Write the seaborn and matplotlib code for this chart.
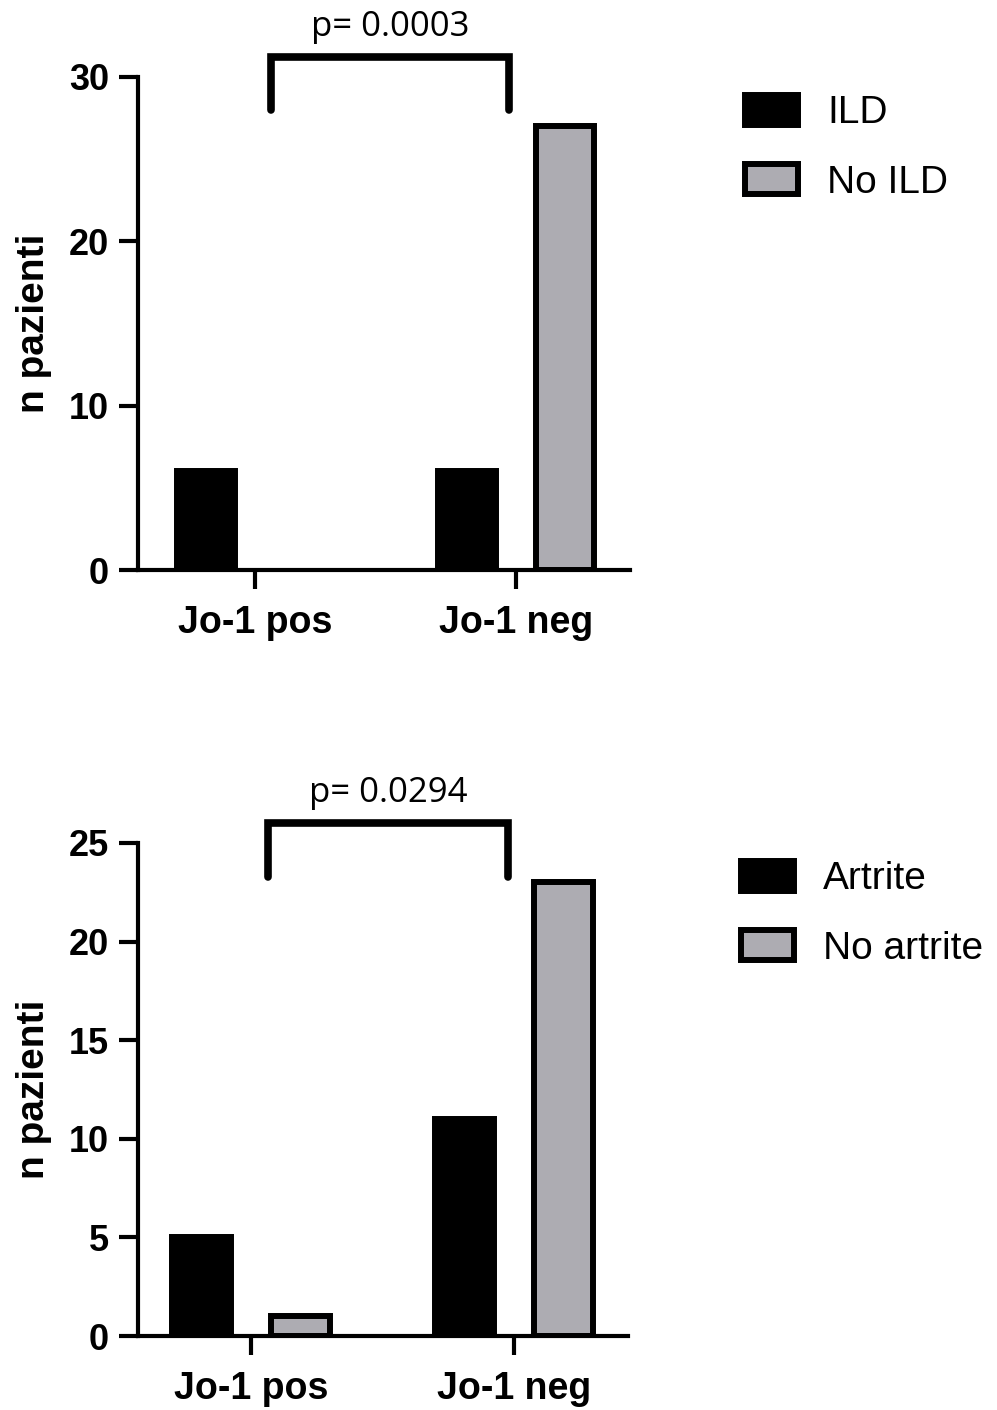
import numpy as np
import pandas as pd
import matplotlib
matplotlib.use("Agg")
import matplotlib.pyplot as plt
import matplotlib.patches as mpatches
import seaborn as sns

# ---------------- data ----------------
groups = ["Jo-1 pos", "Jo-1 neg"]

ild_labels = ["ILD", "No ILD"]
ild_values = [6, 6]
no_ild_values = [0, 27]

artrite_labels = ["Artrite", "No artrite"]
artrite_values = [5, 11]
no_artrite_values = [1, 23]

p_labels = ["p= 0.0003", "p= 0.0294"]
top_yticks = [0, 10, 20, 30]
bottom_yticks = [0, 5, 10, 15, 20, 25]
y_label = "n pazienti"

# ---------------- style ----------------
sns.set_theme(style="ticks")
plt.rcParams["font.family"] = ["Liberation Sans", "DejaVu Sans"]
plt.rcParams["text.color"] = "black"
plt.rcParams["axes.labelcolor"] = "black"
plt.rcParams["xtick.color"] = "black"
plt.rcParams["ytick.color"] = "black"

BLACK = "#000000"
GRAY = "#ADACB2"
EDGE_LW = 4.3
SPINE_LW = 3.0

W, H = 997, 1410
fig = plt.figure(figsize=(W / 100, H / 100), dpi=100)

def px_axes(left, right, top, bottom):
    return fig.add_axes([left / W, 1 - bottom / H, (right - left) / W, (bottom - top) / H])

ax_top = px_axes(138, 630, 77, 570)
ax_bot = px_axes(138, 628, 843, 1336)

def make_df(labels, v1, v2):
    rows = []
    for g, a, b in zip(groups, v1, v2):
        rows.append({"group": g, "status": labels[0], "n": a})
        rows.append({"group": g, "status": labels[1], "n": b})
    return pd.DataFrame(rows)

panels = [
    (ax_top, make_df(ild_labels, ild_values, no_ild_values), ild_labels, top_yticks,
     (-0.448, 1.437), p_labels[0], (0.06, 0.973), (28.0, 31.22), 32.5,
     (745, 95)),
    (ax_bot, make_df(artrite_labels, artrite_values, no_artrite_values), artrite_labels, bottom_yticks,
     (-0.43, 1.433), p_labels[1], (0.065, 0.977), (23.3, 26.01), 27.1,
     (741, 861)),
]

for ax, df, labels, yticks, xlim, ptxt, bx, by, ptext_y, leg_xy in panels:
    sns.barplot(data=df, x="group", y="n", hue="status", order=groups, hue_order=labels,
                palette=[BLACK, GRAY], width=0.753, gap=0.405,
                edgecolor=BLACK, linewidth=EDGE_LW, saturation=1, legend=False,
                errorbar=None, ax=ax)
    # zero-height bars: no visible outline
    for p in ax.patches:
        if p.get_height() == 0:
            p.set_linewidth(0)
    ax.set_xlim(*xlim)
    ax.set_ylim(yticks[0], yticks[-1])
    ax.set_yticks(yticks)
    ax.set_xlabel("")
    ax.set_ylabel(y_label, fontsize=28, fontweight="bold", labelpad=0, color=BLACK)
    ax.yaxis.set_label_coords(-0.175, 0.5)
    sns.despine(ax=ax)
    for s in ["left", "bottom"]:
        ax.spines[s].set_linewidth(SPINE_LW)
        ax.spines[s].set_color(BLACK)
    ax.tick_params(axis="x", length=14, width=SPINE_LW, color=BLACK, pad=11, labelsize=27)
    ax.tick_params(axis="y", length=14, width=SPINE_LW, color=BLACK, pad=7, labelsize=26)
    for t in ax.get_xticklabels() + ax.get_yticklabels():
        t.set_fontweight("bold")
        t.set_color(BLACK)
    ax.set_facecolor("white")

    # significance bracket
    ax.plot([bx[0], bx[0], bx[1], bx[1]], [by[0], by[1], by[1], by[0]],
            color=BLACK, lw=5.5, clip_on=False, solid_capstyle="round",
            solid_joinstyle="miter", zorder=5)
    ax.text((bx[0] + bx[1]) / 2, ptext_y, ptxt, ha="center", va="baseline",
            fontsize=25, family=["Open Sans", "DejaVu Sans"], color=BLACK, clip_on=False)

    handles = [
        mpatches.Patch(facecolor=BLACK, edgecolor=BLACK, linewidth=EDGE_LW, label=labels[0]),
        mpatches.Patch(facecolor=GRAY, edgecolor=BLACK, linewidth=EDGE_LW, label=labels[1]),
    ]
    leg = fig.legend(handles=handles, loc="upper left",
                     bbox_to_anchor=(leg_xy[0] / W, 1 - leg_xy[1] / H),
                     frameon=False, fontsize=28, handlelength=1.36, handleheight=0.8,
                     handletextpad=0.75, labelspacing=0.85, borderpad=0, borderaxespad=0)
    for t in leg.get_texts():
        t.set_color(BLACK)

fig.savefig("out.png", dpi=100, facecolor="white")
